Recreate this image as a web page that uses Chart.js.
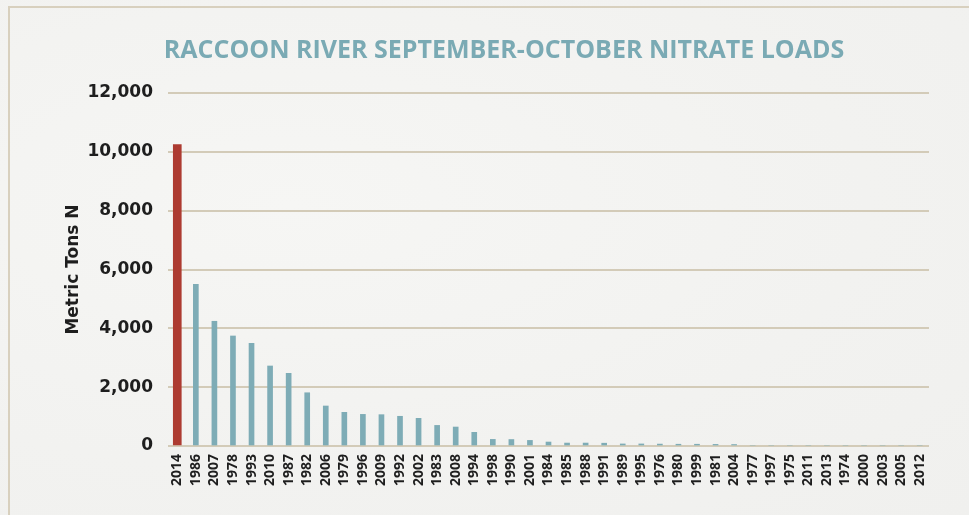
<!DOCTYPE html>
<html>
<head>
<meta charset="utf-8">
<script src="https://cdn.jsdelivr.net/npm/chart.js@4"></script>
<style>
  html, body { margin: 0; padding: 0; background: #f3f3f1; }
  #wrap { position: relative; width: 969px; height: 515px; overflow: hidden;
    background: radial-gradient(ellipse at 30% 40%, #f6f6f4 0%, #f2f2f0 60%, #f0f0ee 100%); }
  #frame { position: absolute; left: 8px; top: 6px; width: 1000px; height: 600px;
    border-top: 2px solid #d8d0be; border-left: 2px solid #d8d0be; }
  canvas { position: absolute; left: 0; top: 0; }
</style>
</head>
<body>
<div id="wrap">
  <div id="frame"></div>
  <canvas id="c" width="969" height="515"></canvas>
</div>
<script>
const categories = ['2014','1986','2007','1978','1993','2010','1987','1982','2006','1979',
  '1996','2009','1992','2002','1983','2008','1994','1998','1990','2001',
  '1984','1985','1988','1991','1989','1995','1976','1980','1999','1981',
  '2004','1977','1997','1975','2011','2013','1974','2000','2003','2005','2012'];
const loads = [10250, 5500, 4240, 3740, 3490, 2720, 2470, 1810, 1360, 1145,
  1075, 1065, 1010, 940, 700, 645, 465, 225, 220, 190,
  135, 100, 100, 95, 70, 70, 65, 60, 60, 55,
  50, 0, 0, 0, 0, 0, 0, 0, 0, 0, 0];
const highlightYear = '2014';
const yTicks = [0, 2000, 4000, 6000, 8000, 10000, 12000];

const highlightValues = loads.map((v, i) => categories[i] === highlightYear ? v : null);
const otherValues = loads.map((v, i) => categories[i] === highlightYear ? null : v);

// shift the title block so it is centred where the reference title sits
const titleShift = {
  id: 'titleShift',
  afterLayout(chart) {
    const tb = chart.titleBlock;
    if (tb) { tb.left = 79; tb.right = 929; }
  }
};

new Chart(document.getElementById('c'), {
  type: 'bar',
  data: {
    labels: categories,
    datasets: [
      { label: highlightYear, data: highlightValues, backgroundColor: '#ad3b31', barThickness: 8, grouped: false },
      { label: 'Other years', data: otherValues, backgroundColor: '#7eacb6', barThickness: 5, grouped: false }
    ]
  },
  plugins: [titleShift],
  options: {
    responsive: false,
    devicePixelRatio: 1,
    animation: false,
    layout: { padding: { left: 0, right: 40, top: 0, bottom: 0 } },
    plugins: {
      legend: { display: false },
      tooltip: { enabled: false },
      title: {
        display: true,
        text: 'RACCOON RIVER SEPTEMBER-OCTOBER NITRATE LOADS',
        color: '#7aaab4',
        font: { family: 'Open Sans', size: 25, weight: 'bold' },
        padding: { top: 36, bottom: 27 }
      }
    },
    scales: {
      x: {
        grid: { display: false, drawTicks: false },
        border: { display: false },
        ticks: {
          autoSkip: false, maxRotation: 90, minRotation: 90, padding: 8,
          color: '#1e1e1e',
          font: { family: 'Open Sans', size: 14, weight: 'bold' }
        },
        afterFit: (s) => { s.height = 69; }
      },
      y: {
        min: 0, max: 12000,
        afterBuildTicks: (s) => { s.ticks = yTicks.map(v => ({ value: v })); },
        grid: { color: '#d3cbb8', lineWidth: 2, drawTicks: false },
        border: { display: false },
        ticks: {
          padding: 15, color: '#1e1e1e',
          font: { family: 'DejaVu Sans', size: 17, weight: 'bold' },
          callback: (v) => v.toLocaleString('en-US')
        },
        title: {
          display: true, text: 'Metric Tons N', color: '#1e1e1e',
          font: { family: 'DejaVu Sans', size: 17, weight: 'bold' },
          padding: { top: 63, bottom: 0 }
        },
        afterFit: (s) => { s.width = 168; }
      }
    }
  }
});
</script>
</body>
</html>
